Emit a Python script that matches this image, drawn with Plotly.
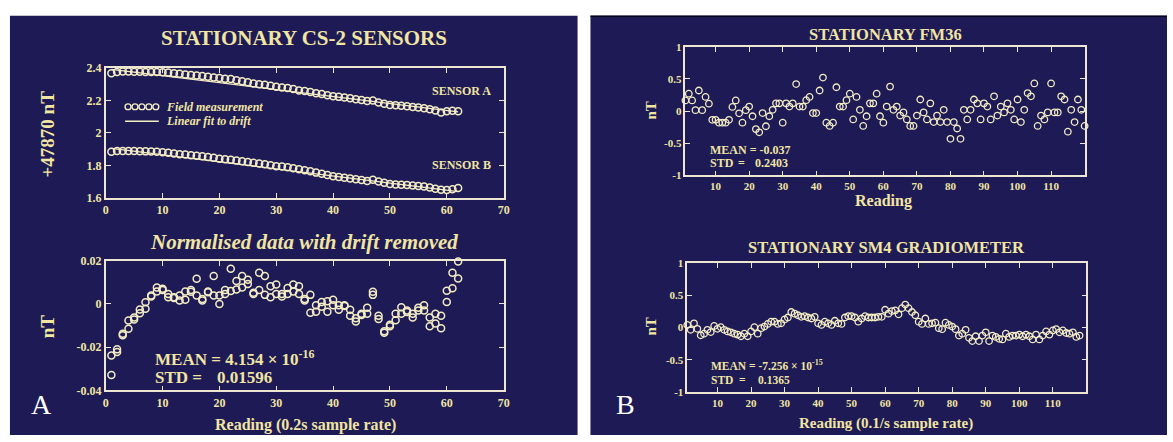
import plotly.graph_objects as go

W, H = 1173, 442
def px(x): return x / W
def py(y): return 1 - y / H

# ---------------- data ----------------
readings_cs2 = list(range(1, 63))
sensor_a = [2.368, 2.376, 2.378, 2.378, 2.377, 2.377, 2.376, 2.375, 2.375, 2.374,
            2.372, 2.368, 2.364, 2.360, 2.357, 2.353, 2.350, 2.346, 2.342, 2.338,
            2.333, 2.332, 2.325, 2.318, 2.312, 2.305, 2.300, 2.297, 2.290, 2.284,
            2.280, 2.276, 2.270, 2.262, 2.258, 2.252, 2.245, 2.240, 2.232, 2.226,
            2.222, 2.218, 2.213, 2.208, 2.203, 2.196, 2.200, 2.188, 2.180, 2.172,
            2.170, 2.168, 2.164, 2.160, 2.156, 2.152, 2.145, 2.138, 2.126, 2.134,
            2.137, 2.134]
sensor_b = [1.884, 1.889, 1.889, 1.888, 1.888, 1.887, 1.886, 1.885, 1.883, 1.881,
            1.877, 1.873, 1.869, 1.866, 1.862, 1.859, 1.856, 1.851, 1.846, 1.841,
            1.838, 1.834, 1.830, 1.825, 1.821, 1.816, 1.811, 1.806, 1.800, 1.795,
            1.792, 1.788, 1.782, 1.776, 1.770, 1.763, 1.755, 1.748, 1.740, 1.732,
            1.728, 1.724, 1.719, 1.714, 1.709, 1.704, 1.711, 1.700, 1.693, 1.685,
            1.682, 1.680, 1.678, 1.676, 1.673, 1.670, 1.664, 1.656, 1.650, 1.648,
            1.652, 1.660]
fit_x = [1, 62]
fit_a = [2.392, 2.130]
fit_b = [1.904, 1.638]

resid_1 = [-0.0238, -0.0210, -0.0138, -0.0076, -0.0063, -0.0026, 0.0008, 0.0039, 0.0076, 0.0070,
           0.0046, 0.0031, 0.0039, 0.0058, 0.0065, 0.0117, 0.0023, 0.0058, 0.0129, 0.0039,
           0.0065, 0.0163, 0.0106, 0.0129, 0.0112, 0.0052, 0.0144, 0.0129, 0.0082, 0.0090,
           0.0046, 0.0074, 0.0090, 0.0082, 0.0023, 0.0042, -0.0006, 0.0009, 0.0013, 0.0019,
           -0.0006, -0.0006, -0.0027, -0.0066, -0.0045, -0.0018, 0.0057, -0.0054, -0.0126, -0.0096,
           -0.0045, -0.0015, -0.0030, -0.0045, -0.0018, -0.0006, -0.0063, -0.0045, -0.0054, 0.0061,
           0.0144, 0.0196]
resid_2 = [-0.0328, -0.0222, -0.0145, -0.0115, -0.0072, -0.0043, -0.0022, 0.0035, 0.0058, 0.0064,
           0.0031, 0.0028, 0.0016, 0.0019, 0.0056, 0.0039, 0.0016, 0.0054, 0.0039, 0.0000,
           0.0046, 0.0060, 0.0067, 0.0076, 0.0092, 0.0046, 0.0065, 0.0042, 0.0031, 0.0046,
           0.0035, 0.0046, 0.0058, 0.0046, 0.0016, -0.0041, -0.0036, -0.0013, -0.0036, -0.0006,
           -0.0027, -0.0010, -0.0054, -0.0081, -0.0051, -0.0045, 0.0042, -0.0070, -0.0133, -0.0103,
           -0.0075, -0.0045, -0.0037, -0.0063, -0.0030, -0.0030, -0.0103, -0.0090, -0.0112, 0.0009,
           0.0073, 0.0118]

readings_fm36 = list(range(1, 121))
fm36 = [0.165, 0.27, 0.165, 0.015, 0.32, 0.015, 0.22, 0.115, -0.135, -0.135,
        -0.18, -0.18, -0.18, -0.135, 0.065, 0.165, -0.035, -0.18, 0.015, 0.07,
        -0.08, -0.28, -0.33, -0.03, -0.235, -0.08, 0.02, 0.12, 0.12, -0.18,
        0.12, 0.07, 0.12, 0.42, 0.07, 0.07, 0.17, 0.22, -0.03, -0.03,
        0.32, 0.52, -0.18, -0.23, -0.18, 0.37, 0.07, 0.07, 0.17, 0.27,
        -0.13, 0.22, 0.02, -0.23, -0.08, 0.12, 0.12, 0.27, -0.08, -0.18,
        0.07, 0.38, 0.02, 0.07, -0.07, -0.02, -0.13, -0.23, -0.23, -0.07,
        0.18, -0.02, -0.13, 0.12, -0.17, -0.07, -0.17, 0.02, -0.17, -0.43,
        -0.17, -0.27, -0.43, 0.02, -0.13, 0.02, 0.18, 0.12, -0.13, 0.12,
        0.07, -0.13, 0.23, -0.07, 0.07, -0.02, 0.12, 0.02, -0.13, 0.18,
        -0.17, 0.02, 0.28, 0.23, 0.43, -0.23, -0.07, -0.13, -0.02, 0.43,
        -0.02, -0.02, 0.23, 0.18, -0.32, 0.02, -0.17, 0.18, 0.02, -0.23]

readings_sm4 = list(range(1, 119))
sm4 = [0.04, -0.035, 0.065, -0.02, -0.12, -0.095, -0.035, -0.07, 0.025, -0.02,
       0.005, -0.035, -0.06, -0.075, -0.095, -0.11, -0.135, -0.095, -0.135, -0.06,
       0.005, -0.095, -0.01, 0.015, 0.055, 0.09, 0.09, 0.055, 0.065, 0.125,
       0.155, 0.24, 0.215, 0.19, 0.165, 0.175, 0.155, 0.14, 0.165, 0.065,
       0.04, 0.09, 0.065, 0.04, 0.105, 0.065, 0.055, 0.155, 0.175, 0.175,
       0.155, 0.09, 0.14, 0.175, 0.155, 0.155, 0.155, 0.165, 0.165, 0.275,
       0.215, 0.255, 0.265, 0.205, 0.30, 0.355, 0.30, 0.24, 0.19, 0.09,
       0.055, 0.14, 0.055, 0.065, 0.075, -0.01, -0.025, 0.075, 0.04, 0.015,
       -0.025, -0.125, -0.095, -0.035, -0.16, -0.21, -0.135, -0.21, -0.125, -0.075,
       -0.21, -0.125, -0.145, -0.175, -0.185, -0.095, -0.145, -0.125, -0.125, -0.11,
       -0.135, -0.11, -0.135, -0.185, -0.11, -0.185, -0.125, -0.06, -0.11, -0.045,
       -0.025, -0.075, -0.045, -0.085, -0.095, -0.075, -0.145, -0.125]

cs2_xticks = [0, 10, 20, 30, 40, 50, 60, 70]
cs2_yticks = [1.6, 1.8, 2.0, 2.2, 2.4]
cs2_yticktext = ["1.6", "1.8", "2", "2.2", "2.4"]
res_yticks = [-0.04, -0.02, 0, 0.02]
res_yticktext = ["-0.04", "-0.02", "0", "0.02"]
b_xticks = [10, 20, 30, 40, 50, 60, 70, 80, 90, 100, 110]
b_yticks = [-1, -0.5, 0, 0.5, 1]
b_yticktext = ["-1", "-0.5", "0", "0.5", "1"]

# ---------------- style ----------------
NAVY = "#1d1a55"
CREAM = "#f1e5a2"
LINE = "#ece6d2"
MARK = "#f4edc4"
SERIF = "Liberation Serif"
NB = "\u00a0"

fig = go.Figure()

def circles(x, y, xa, ya, size, lw):
    fig.add_trace(go.Scatter(x=x, y=y, xaxis=xa, yaxis=ya, mode="markers",
                             marker=dict(symbol="circle-open", size=size, color=MARK,
                                         line=dict(width=lw, color=MARK)),
                             showlegend=False, cliponaxis=False))

fig.add_trace(go.Scatter(x=fit_x, y=fit_a, xaxis="x", yaxis="y", mode="lines",
                         line=dict(color=MARK, width=1.2), showlegend=False))
fig.add_trace(go.Scatter(x=fit_x, y=fit_b, xaxis="x", yaxis="y", mode="lines",
                         line=dict(color=MARK, width=1.2), showlegend=False))
circles(readings_cs2, sensor_a, "x", "y", 7, 1.5)
circles(readings_cs2, sensor_b, "x", "y", 7, 1.5)
circles(readings_cs2, resid_1, "x2", "y2", 7, 1.5)
circles(readings_cs2, resid_2, "x2", "y2", 7, 1.5)
circles(readings_fm36, fm36, "x3", "y3", 6.5, 1.3)
circles(readings_sm4, sm4, "x4", "y4", 6.5, 1.3)

def xaxis(dom, rng, tickvals, anchor, size):
    return dict(domain=[px(dom[0]), px(dom[1])], range=rng, tickvals=tickvals,
                ticks="inside", ticklen=5, tickwidth=1.3, tickcolor=LINE,
                showline=True, linecolor=LINE, linewidth=1.6, mirror="ticks",
                showgrid=False, zeroline=False, anchor=anchor,
                tickfont=dict(family=SERIF, size=size, color=CREAM, weight="bold"))

def yaxis(dom, rng, tickvals, ticktext, anchor, size):
    return dict(domain=[py(dom[1]), py(dom[0])], range=rng, tickvals=tickvals,
                ticktext=ticktext, ticks="inside", ticklen=5, tickwidth=1.3,
                tickcolor=LINE, showline=True, linecolor=LINE, linewidth=1.6,
                mirror="ticks", showgrid=False, zeroline=False, anchor=anchor,
                tickfont=dict(family=SERIF, size=size, color=CREAM, weight="bold"))

fig.update_layout(
    width=W, height=H, margin=dict(l=0, r=0, t=0, b=0),
    paper_bgcolor="white", plot_bgcolor="rgba(0,0,0,0)",
    xaxis=xaxis((103.5, 504.5), [0, 70], cs2_xticks, "y", 12),
    yaxis=yaxis((63, 197), [1.6, 2.4], cs2_yticks, cs2_yticktext, "x", 12),
    xaxis2=xaxis((103.5, 504.5), [0, 70], cs2_xticks, "y2", 12),
    yaxis2=yaxis((262, 396), [-0.04, 0.02], res_yticks, res_yticktext, "x2", 12),
    xaxis3=xaxis((687.7, 1090), [1, 120], b_xticks, "y3", 11),
    yaxis3=yaxis((41, 174), [-1, 1], b_yticks, b_yticktext, "x3", 11),
    xaxis4=xaxis((689.6, 1091.7), [1, 120], b_xticks, "y4", 11),
    yaxis4=yaxis((264.3, 397.7), [-1, 1], b_yticks, b_yticktext, "x4", 11),
)

shapes = [
    dict(type="rect", xref="paper", yref="paper", x0=px(7), x1=px(579), y0=py(442), y1=py(9),
         fillcolor=NAVY, line=dict(width=0), layer="below"),
    dict(type="rect", xref="paper", yref="paper", x0=px(592), x1=px(1173), y0=py(442), y1=py(9),
         fillcolor=NAVY, line=dict(width=0), layer="below"),
    dict(type="line", xref="paper", yref="paper", x0=px(592), x1=px(1173), y0=py(9.5), y1=py(9.5),
         line=dict(color="#05041a", width=1.5), layer="below"),
]
# legend glyphs (five open circles and a line)
for cx in [126, 133, 140, 147, 154]:
    shapes.append(dict(type="circle", xref="paper", yref="paper",
                       x0=px(cx - 3), x1=px(cx + 3), y0=py(106), y1=py(100),
                       line=dict(color=MARK, width=1.4)))
shapes.append(dict(type="line", xref="paper", yref="paper", x0=px(123), x1=px(157),
                   y0=py(118), y1=py(118), line=dict(color=MARK, width=1.5)))
fig.update_layout(shapes=shapes)

ann = []
def txt(x, y, s, size, color=CREAM, xanchor="center", angle=0, family=SERIF, weight="bold"):
    ann.append(dict(xref="paper", yref="paper", x=px(x), y=py(y), text=s, showarrow=False,
                    xanchor=xanchor, yanchor="middle", textangle=angle, borderpad=0,
                    font=dict(family=family, size=size, color=color, weight=weight)))

# Panel A
txt(303, 32, "STATIONARY CS-2 SENSORS", 21)
txt(45, 131, "+47870 nT", 19, angle=-90)
txt(163, 103, "<i>Field measurement</i>", 12, xanchor="left")
txt(163, 118, "<i>Linear fit to drift</i>", 12, xanchor="left")
txt(462, 87, "SENSOR A", 12)
txt(462, 163, "SENSOR B", 12)
txt(303, 243, "<i>Normalised data with drift removed</i>", 21)
txt(45, 330, "nT", 19, angle=-90)
txt(152, 362, "MEAN =" + NB + "4.154 × 10<sup>-16</sup>", 17, xanchor="left")
txt(152, 383, "STD =", 17, xanchor="left")
txt(215, 383, "0.01596", 17, xanchor="left")
txt(305, 432, "Reading (0.2s sample rate)", 16)
txt(39, 411, "A", 28, color="white", weight="normal")

# Panel B
txt(889, 28, "STATIONARY FM36", 16.5)
txt(653, 107, "nT", 15, angle=-90)
txt(711, 148, "MEAN = -0.037", 12, xanchor="left")
txt(711, 161, "STD", 12, xanchor="left")
txt(740, 161, "=", 12, xanchor="left")
txt(757, 161, "0.2403", 12, xanchor="left")
txt(887, 200, "Reading", 16)
txt(890, 248, "STATIONARY SM4 GRADIOMETER", 16.5)
txt(653, 330, "nT", 15, angle=-90)
txt(712, 370, "MEAN = -7.256 × 10<sup>-15</sup>", 11.5, xanchor="left")
txt(712, 385, "STD", 11.5, xanchor="left")
txt(741, 385, "=", 11.5, xanchor="left")
txt(760, 385, "0.1365", 11.5, xanchor="left")
txt(890, 430, "Reading (0.1/s sample rate)", 15)
txt(627, 411, "B", 28, color="white", weight="normal")

fig.update_layout(annotations=ann)
fig.write_html("out.html", config={"displayModeBar": False},
               post_script="document.body.style.margin='0';document.body.style.overflow='hidden';")
